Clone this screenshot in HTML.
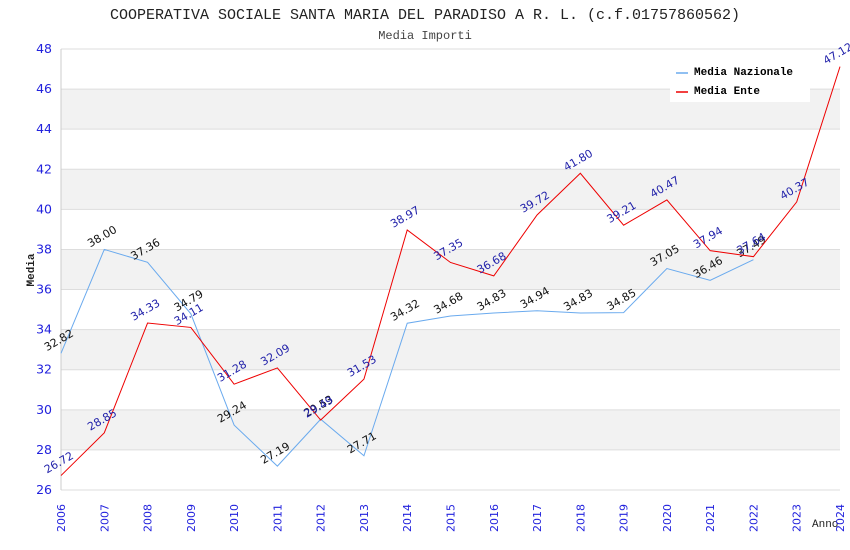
<!DOCTYPE html>
<html><head><meta charset="utf-8"><style>
body{margin:0;background:#fff;}
svg{display:block;font-family:"DejaVu Sans","Liberation Sans",sans-serif;}
</style></head><body>
<svg id="c" width="850" height="550">
<text x="425" y="19" text-anchor="middle" font-family="Liberation Mono, monospace" font-size="15" fill="#222">COOPERATIVA SOCIALE SANTA MARIA DEL PARADISO A R. L. (c.f.01757860562)</text>
<text x="425" y="39" text-anchor="middle" font-family="Liberation Mono, monospace" font-size="12" fill="#444">Media Importi</text>
<text transform="translate(34,270) rotate(-90)" text-anchor="middle" font-family="Liberation Mono, monospace" font-size="11" font-weight="bold" fill="#222">Media</text>
<text x="812" y="527" font-family="Liberation Mono, monospace" font-size="11" fill="#222">Anno</text>
<g id="grid"></g><g id="series"></g>
<g>
<rect x="670" y="60" width="140" height="42" fill="#fff"/>
<line x1="676" y1="73" x2="688" y2="73" stroke="#6aaaee" stroke-width="1.5"/>
<text x="694" y="75" font-family="Liberation Mono, monospace" font-size="11" font-weight="bold" fill="#000">Media Nazionale</text>
<line x1="676" y1="92" x2="688" y2="92" stroke="#e00" stroke-width="1.5"/>
<text x="694" y="94" font-family="Liberation Mono, monospace" font-size="11" font-weight="bold" fill="#000">Media Ente</text>
</g>
</svg>
<script>
const years=[2006,2007,2008,2009,2010,2011,2012,2013,2014,2015,2016,2017,2018,2019,2020,2021,2022,2023,2024];
const naz=[32.82,38.00,37.36,34.79,29.24,27.19,29.53,27.71,34.32,34.68,34.83,34.94,34.83,34.85,37.05,36.46,37.49];
const ente=[26.72,28.85,34.33,34.11,31.28,32.09,29.49,31.53,38.97,37.35,36.68,39.72,41.80,39.21,40.47,37.94,37.64,40.37,47.12];
const yTicks=[26,28,30,32,34,36,38,40,42,44,46,48];
const NS="http://www.w3.org/2000/svg";
const L=61,R=840,T=49,B=490;
const x=i=>L+(R-L)*i/(years.length-1);
const y=v=>B-(B-T)*(v-26)/22;
function mk(t,a,p){const e=document.createElementNS(NS,t);for(const k in a)e.setAttribute(k,a[k]);(p||document.getElementById('c')).appendChild(e);return e;}
const g=document.getElementById('grid'),s=document.getElementById('series');
for(let k=0;k<yTicks.length-1;k++){
  if(k%2===1){const r=mk('rect',{x:L,y:y(yTicks[k+1]),width:R-L,height:y(yTicks[k])-y(yTicks[k+1]),fill:'#f2f2f2'},g);
  
  }
}
yTicks.forEach(v=>{
  const l=mk('line',{x1:L,x2:R,y1:y(v),y2:y(v),stroke:'#ddd'},g);
  
  
  const t=mk('text',{x:52,y:y(v)+4,'text-anchor':'end','font-size':12.5,fill:'#22d'},g);
  t.textContent=v;
  
  
});
mk('line',{x1:L,x2:L,y1:T,y2:B,stroke:'#ccc'},g);
years.forEach((yr,i)=>{
  const t=mk('text',{transform:`translate(${x(i)+4},${B+42}) rotate(-90)`,'font-size':11,fill:'#22d'},g);
  t.textContent=yr;
  
  
});
function series(d,col,lc,name){
  const p=mk('polyline',{points:d.map((v,i)=>x(i)+','+y(v)).join(' '),fill:'none',stroke:col,'stroke-width':1},s);
  
  
  d.forEach((v,i)=>{
    const t=mk('text',{transform:`translate(${x(i)-14},${y(v)-2}) rotate(-30)`,'font-size':11,fill:lc},s);
    t.textContent=v.toFixed(2);
    
    
  });
}
series(naz,'#6aaaee','#111','nazionale');
series(ente,'#e00','#22a','ente');
</script>
</body></html>
